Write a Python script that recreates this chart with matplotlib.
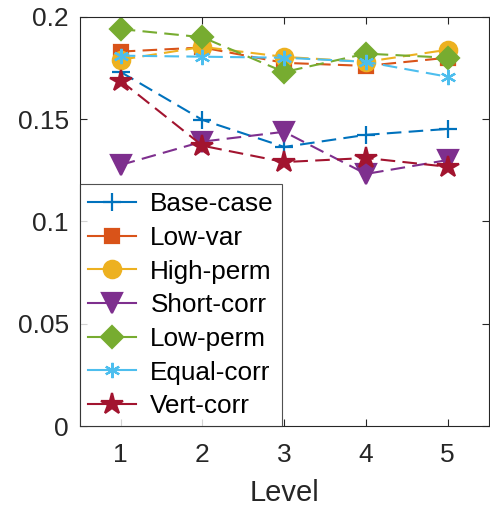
import numpy as np
import matplotlib.pyplot as plt

plt.rcParams['font.family'] = ['Liberation Sans', 'DejaVu Sans']

levels = [1, 2, 3, 4, 5]
base_case = [0.173, 0.1496, 0.1364, 0.1423, 0.1452]
low_var = [0.183, 0.185, 0.1775, 0.176, 0.180]
high_perm = [0.179, 0.1853, 0.1804, 0.178, 0.1839]
short_corr = [0.1276, 0.139, 0.1438, 0.1232, 0.1300]
low_perm = [0.194, 0.190, 0.173, 0.182, 0.180]
equal_corr = [0.181, 0.1805, 0.180, 0.178, 0.1707]
vert_corr = [0.1687, 0.137, 0.129, 0.131, 0.1267]

series = [
    ("Base-case", base_case, "#0072BD", "+", 13),
    ("Low-var", low_var, "#D95319", "s", 10),
    ("High-perm", high_perm, "#EDB120", "o", 12.5),
    ("Short-corr", short_corr, "#7E2F8E", "v", 14),
    ("Low-perm", low_perm, "#77AC30", "D", 11.5),
    ("Equal-corr", equal_corr, "#4DBEEE", (6, 2, 0), 11),
    ("Vert-corr", vert_corr, "#A2142F", "*", 16),
]

fig = plt.figure(figsize=(4.9, 5.09), dpi=100)
ax = fig.add_axes([0.163, 0.163, 0.834, 0.804])

for name, vals, col, mk, ms in series:
    ax.plot(levels, vals, linestyle=(0, (7, 3.5)), color=col, lw=1.5,
            marker=mk, ms=ms, mew=1.6, label=name)

ax.set_xlim(0.5, 5.5)
ax.set_ylim(0, 0.2)
ax.set_xticks(levels)
ax.set_yticks([0, 0.05, 0.1, 0.15, 0.2])
ax.set_yticklabels(["0", "0.05", "0.1", "0.15", "0.2"])
ax.tick_params(direction='in', top=True, right=True, labelsize=19, colors='#262626',
               length=5, pad=8)
ax.tick_params(axis='x', pad=12)
for s in ax.spines.values():
    s.set_color('#262626')
ax.set_xlabel("Level", fontsize=21, color='#262626', labelpad=9)

leg = ax.legend(loc='lower left', bbox_to_anchor=(0, 0), fontsize=18.8, frameon=True,
                fancybox=False, edgecolor='#262626', borderaxespad=0, handlelength=1.85,
                labelspacing=0.37, borderpad=0.3, handletextpad=0.55)
leg.get_frame().set_linewidth(0.8)
for h in leg.get_lines():
    h.set_linestyle('-')

fig.savefig("out.png", dpi=100)
